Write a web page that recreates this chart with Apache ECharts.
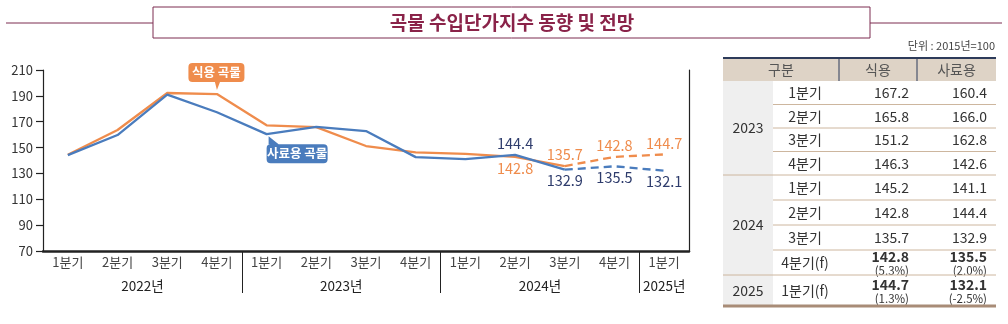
<!DOCTYPE html>
<html><head><meta charset="utf-8">
<script src="https://cdn.jsdelivr.net/npm/echarts@6/dist/echarts.min.js"></script>
<style>html,body{margin:0;padding:0;background:#fff}#c{width:1008px;height:324px}</style>
</head><body><div id="c"></div>
<script>
// ---- data ----
const titleText = '곡물 수입단가지수 동향 및 전망';
const unitText = '단위 : 2015년=100';
const yearNames = ['2022년', '2023년', '2024년', '2025년'];
const quartersPerYear = [4, 4, 4, 1];
const quarterLabels = ['1분기','2분기','3분기','4분기','1분기','2분기','3분기','4분기','1분기','2분기','3분기','4분기','1분기'];
const foodValues = [144.5, 163.6, 192.2, 191.4, 167.2, 165.8, 151.2, 146.3, 145.2, 142.8, 135.7, 142.8, 144.7];
const feedValues = [144.2, 159.7, 190.9, 177.3, 160.4, 166.0, 162.8, 142.6, 141.1, 144.4, 132.9, 135.5, 132.1];
const foodName = '식용 곡물';
const feedName = '사료용 곡물';
const forecastStart = 10;      // dashed from this index on
const firstLabelIndex = 9;     // value labels from this index on
const foodCalloutIndex = 3;
const feedCalloutIndex = 4;
const yMin = 70, yMax = 210, yStep = 20;

// table data
const tblHeader = ['구분', '식용', '사료용'];
const tblYears = ['2023', '2024', '2025'];
const tblYearRows = [4, 4, 1];
const tblQuarters = ['1분기','2분기','3분기','4분기','1분기','2분기','3분기','4분기(f)','1분기(f)'];
const tblFood = ['167.2','165.8','151.2','146.3','145.2','142.8','135.7','142.8','144.7'];
const tblFeed = ['160.4','166.0','162.8','142.6','141.1','144.4','132.9','135.5','132.1'];
const tblFoodChg = [null,null,null,null,null,null,null,'(5.3%)','(1.3%)'];
const tblFeedChg = [null,null,null,null,null,null,null,'(2.0%)','(-2.5%)'];

// ---- chart ----
const FONT = '"Noto Sans CJK KR", "Noto Sans", sans-serif';
const ORANGE = '#EF8C4C', BLUE = '#4A7CBD', NAVY = '#2E3C6C', AXIS = '#222';
const yearOf = [];
quartersPerYear.forEach((n, k) => { for (let j = 0; j < n; j++) yearOf.push(yearNames[k]); });
const categories = quarterLabels.map((q, i) => yearOf[i] + ' ' + q);

const yearCenters = [], yearBounds = [];
let acc = 0;
quartersPerYear.forEach((n, k) => { yearCenters.push(acc + n / 2); acc += n; if (k < quartersPerYear.length - 1) yearBounds.push(acc); });

function makeData(vals, other, part, isFood) {
  return vals.map((v, i) => {
    const inPart = part === 'solid' ? i <= forecastStart : i >= forecastStart;
    if (!inPart) return null;
    const labelHere = i >= firstLabelIndex && (part === 'solid' ? true : i > forecastStart);
    if (!labelHere) return v;
    const top = v >= other[i];
    return {
      value: v,
      label: {
        show: true, position: top ? 'top' : 'bottom', distance: 4,
        formatter: v.toFixed(1), color: isFood ? ORANGE : NAVY,
        fontSize: 14.5, fontFamily: FONT
      }
    };
  });
}

// callout paths
const calloutDown = 'path://M4 0 H51 Q55 0 55 4 V15 Q55 19 51 19 H31 L28 27 L26 19 H4 Q0 19 0 15 V4 Q0 0 4 0 Z';
const calloutUp = 'path://M6 8 H2 L2 0 L12 8 H57 Q61 8 61 12 V23 Q61 27 57 27 H4 Q0 27 0 23 V12 Q0 8 4 8 Z';

const common = { showSymbol: true, symbol: 'circle', symbolSize: 0, silent: true, label: { show: false } };

const series = [
  Object.assign({
    name: foodName, type: 'line', data: makeData(foodValues, feedValues, 'solid', true),
    lineStyle: { color: ORANGE, width: 2.3 }, itemStyle: { color: ORANGE }, z: 3,
    markPoint: {
      silent: true,
      data: [{
        coord: [categories[foodCalloutIndex], foodValues[foodCalloutIndex]],
        symbol: calloutDown, symbolKeepAspect: false, symbolSize: [56, 27], symbolOffset: [-0.5, -17.5],
        itemStyle: { color: ORANGE },
        label: { show: true, position: 'inside', formatter: foodName, color: '#fff', fontSize: 12.5, fontWeight: 'bold', fontFamily: FONT, offset: [0, -4] }
      }]
    }
  }, common),
  Object.assign({
    name: foodName, type: 'line', data: makeData(foodValues, feedValues, 'dash', true),
    lineStyle: { color: ORANGE, width: 2.3, type: [8, 5] }, itemStyle: { color: ORANGE }, z: 3
  }, common),
  Object.assign({
    name: feedName, type: 'line', data: makeData(feedValues, foodValues, 'solid', false),
    lineStyle: { color: BLUE, width: 2.3 }, itemStyle: { color: BLUE }, z: 4,
    markPoint: {
      silent: true,
      data: [{
        coord: [categories[feedCalloutIndex], feedValues[feedCalloutIndex]],
        symbol: calloutUp, symbolKeepAspect: false, symbolSize: [61, 27], symbolOffset: [30.5, 15.5],
        itemStyle: { color: BLUE },
        label: { show: true, position: 'inside', formatter: feedName, color: '#fff', fontSize: 12.5, fontWeight: 'bold', fontFamily: FONT, offset: [0, 4] }
      }]
    }
  }, common),
  Object.assign({
    name: feedName, type: 'line', data: makeData(feedValues, foodValues, 'dash', false),
    lineStyle: { color: BLUE, width: 2.3, type: [8, 5] }, itemStyle: { color: BLUE }, z: 4
  }, common)
];

// ---- graphics: title + table ----
const graphic = [];
const MAROON = '#7D2C50';
graphic.push({ type: 'line', shape: { x1: 6, y1: 23, x2: 1002, y2: 23 }, style: { stroke: MAROON, lineWidth: 1 } });
graphic.push({ type: 'rect', shape: { x: 153, y: 7, width: 717, height: 31 }, style: { fill: '#fff', stroke: MAROON, lineWidth: 1 } });
graphic.push({ type: 'text', x: 512, y: 23, style: { text: titleText, fill: '#8A2349', font: 'bold 19px ' + FONT, textAlign: 'center', textVerticalAlign: 'middle' } });
graphic.push({ type: 'text', x: 995, y: 46, style: { text: unitText, fill: '#444', font: '11px ' + FONT, textAlign: 'right', textVerticalAlign: 'middle' } });

const TX0 = 723, TX1 = 996, TYC = 773, TDIV1 = 839, TDIV2 = 917;
const headTop = 58, headBot = 81;
const rowH = [23.5, 25, 31];
const LINE = '#CDB69E', TEXT = '#333';
graphic.push({ type: 'rect', shape: { x: TX0, y: headTop, width: TX1 - TX0, height: headBot - headTop }, style: { fill: '#DED3C6' } });
graphic.push({ type: 'line', shape: { x1: TX0, y1: headTop, x2: TX1, y2: headTop }, style: { stroke: '#2D3B5A', lineWidth: 2 } });
[TDIV1, TDIV2].forEach(x => graphic.push({ type: 'line', shape: { x1: x, y1: headTop + 1, x2: x, y2: headBot }, style: { stroke: '#2D3B5A', lineWidth: 1 } }));
const headCenters = [(TX0 + TDIV1) / 2, (TDIV1 + TDIV2) / 2, (TDIV2 + TX1) / 2];
tblHeader.forEach((h, i) => graphic.push({ type: 'text', x: headCenters[i], y: (headTop + headBot) / 2, style: { text: h, fill: '#555', font: '14px ' + FONT, textAlign: 'center', textVerticalAlign: 'middle' } }));

let yy = headBot, r = 0;
let tableBottom = headBot;
tblYearRows.forEach((n, k) => { tableBottom += n * rowH[k]; });
graphic.push({ type: 'rect', shape: { x: TX0, y: headBot, width: TYC - TX0, height: tableBottom - headBot }, style: { fill: '#EFEFEF' } });
tblYearRows.forEach((n, k) => {
  const blockTop = yy;
  for (let j = 0; j < n; j++) {
    const top = yy, h = rowH[k], cy = top + h / 2;
    if (j > 0) graphic.push({ type: 'line', shape: { x1: TYC, y1: top, x2: TX1, y2: top }, style: { stroke: LINE, lineWidth: 1 } });
    graphic.push({ type: 'text', x: 805, y: cy, style: { text: tblQuarters[r], fill: TEXT, font: '14px ' + FONT, textAlign: 'center', textVerticalAlign: 'middle' } });
    if (tblFoodChg[r]) {
      graphic.push({ type: 'text', x: 909, y: cy - 6, style: { text: tblFood[r], fill: TEXT, font: 'bold 14px ' + FONT, textAlign: 'right', textVerticalAlign: 'middle' } });
      graphic.push({ type: 'text', x: 909, y: cy + 8, style: { text: tblFoodChg[r], fill: TEXT, font: '11.5px ' + FONT, textAlign: 'right', textVerticalAlign: 'middle' } });
      graphic.push({ type: 'text', x: 987, y: cy - 6, style: { text: tblFeed[r], fill: TEXT, font: 'bold 14px ' + FONT, textAlign: 'right', textVerticalAlign: 'middle' } });
      graphic.push({ type: 'text', x: 987, y: cy + 8, style: { text: tblFeedChg[r], fill: TEXT, font: '11.5px ' + FONT, textAlign: 'right', textVerticalAlign: 'middle' } });
    } else {
      graphic.push({ type: 'text', x: 909, y: cy, style: { text: tblFood[r], fill: TEXT, font: '14px ' + FONT, textAlign: 'right', textVerticalAlign: 'middle' } });
      graphic.push({ type: 'text', x: 987, y: cy, style: { text: tblFeed[r], fill: TEXT, font: '14px ' + FONT, textAlign: 'right', textVerticalAlign: 'middle' } });
    }
    yy += h; r++;
  }
  graphic.push({ type: 'text', x: 748, y: (blockTop + yy) / 2, style: { text: tblYears[k], fill: TEXT, font: '14px ' + FONT, textAlign: 'center', textVerticalAlign: 'middle' } });
  if (k < tblYearRows.length - 1) graphic.push({ type: 'line', shape: { x1: TX0, y1: yy, x2: TX1, y2: yy }, style: { stroke: LINE, lineWidth: 1 } });
});
graphic.push({ type: 'line', shape: { x1: TX0, y1: yy, x2: TX1, y2: yy }, style: { stroke: '#A88C77', lineWidth: 3 } });

const option = {
  animation: false,
  backgroundColor: '#fff',
  textStyle: { fontFamily: FONT },
  grid: { left: 43, right: 319, top: 70, bottom: 73, containLabel: false },
  xAxis: [
    {
      type: 'category', data: categories, boundaryGap: true, position: 'bottom',
      axisLine: { show: true, lineStyle: { color: AXIS, width: 2.5 } },
      axisTick: { show: false },
      axisLabel: { interval: 0, margin: 5, fontSize: 13, color: '#444', fontFamily: FONT, formatter: (v) => v.split(' ')[1] },
      splitLine: { show: false }
    },
    {
      type: 'value', min: 0, max: quarterLabels.length, position: 'bottom', offset: 0,
      axisLine: { show: false },
      axisTick: { show: true, inside: false, length: 42, customValues: yearBounds, lineStyle: { color: AXIS, width: 1 } },
      axisLabel: { show: true, customValues: yearCenters, margin: 28, fontSize: 13.5, color: '#222', fontFamily: FONT,
        formatter: (v) => { const k = yearCenters.indexOf(v); return k >= 0 ? yearNames[k] : ''; } },
      splitLine: { show: false }
    }
  ],
  yAxis: [
    {
      type: 'value', min: yMin, max: yMax, interval: yStep,
      axisLine: { show: true, lineStyle: { color: AXIS, width: 1.2 } },
      axisTick: { show: true, length: 7, lineStyle: { color: AXIS, width: 1.2 } },
      axisLabel: { margin: 10, fontSize: 13, color: '#333', fontFamily: FONT },
      splitLine: { show: false }
    },
    {
      type: 'value', min: yMin, max: yMax, interval: yStep, position: 'right',
      axisLine: { show: true, lineStyle: { color: AXIS, width: 1.2 } },
      axisTick: { show: false }, axisLabel: { show: false }, splitLine: { show: false }
    }
  ],
  series: series,
  graphic: graphic
};

const chart = echarts.init(document.getElementById('c'), null, { renderer: 'canvas' });
chart.setOption(option);
</script>
</body></html>
